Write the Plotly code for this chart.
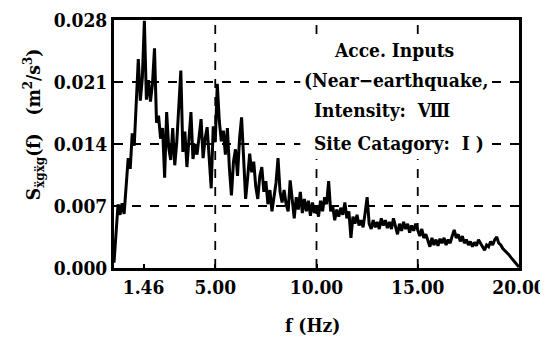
import numpy as np
import plotly.graph_objects as go

# ---- data ----
freq = np.round(np.arange(0, 20.0001, 0.1), 2)  # Hz grid
psd_e3 = [  # S(f) in units of 1e-3 m^2/s^3
    0.6, 4.0, 7.2, 6.0, 7.3, 6.1, 9.8, 12.4, 11.2, 15.2,
    13.8, 18.7, 23.6, 18.9, 21.5, 27.9, 19.0, 21.2, 18.8, 20.8,
    24.8, 16.4, 17.2, 14.6, 15.8, 10.2, 17.6, 13.6, 12.2, 15.8,
    11.6, 14.2, 18.6, 22.3, 13.1, 15.4, 11.4, 15.0, 17.6, 12.3,
    14.0, 12.8, 15.2, 16.8, 12.4, 14.6, 15.9, 11.8, 9.0, 16.0,
    14.2, 20.8, 16.6, 14.3, 15.5, 12.8, 15.8, 11.2, 8.2, 12.0,
    13.4, 10.4, 14.6, 17.0, 11.8, 7.8, 10.2, 12.9, 10.8, 12.0,
    9.2, 7.8, 10.4, 11.4, 8.6, 9.8, 7.2, 8.8, 6.4, 8.2,
    9.6, 12.4, 8.6, 7.4, 8.8, 7.2, 6.4, 9.9, 7.4, 5.6,
    8.0, 6.6, 8.6, 6.2, 7.8, 6.4, 7.6, 5.9, 7.4, 6.2,
    7.0, 5.8, 7.6, 6.4, 8.0, 7.2, 9.8, 6.4, 7.0, 5.4,
    6.6, 5.8, 6.8, 6.0, 7.4, 5.6, 6.4, 3.4, 5.8, 5.0,
    6.0, 4.8, 5.4, 4.6, 6.2, 8.0, 5.0, 4.4, 5.4, 4.6,
    5.2, 4.4, 5.6, 4.8, 5.4, 4.5, 5.2, 4.4, 5.6, 4.6,
    3.8, 5.0, 4.2, 5.2, 4.4, 5.0, 4.0, 4.8, 4.2, 5.0,
    4.4, 3.6, 4.4, 3.4, 3.8, 3.0, 2.4, 3.4, 2.6, 3.2,
    2.5, 3.3, 2.8, 3.4, 2.6, 3.2, 2.8, 3.6, 4.3, 3.4,
    3.8, 3.0, 3.6, 2.8, 3.2, 2.6, 3.0, 2.4, 2.9, 2.5,
    3.2, 2.8, 2.4, 2.0, 2.6, 2.4, 3.0, 2.6, 3.2, 3.5,
    2.8, 2.6, 2.2, 2.0, 1.8, 1.5, 1.2, 0.9, 0.6, 0.3,
    0.1,
]
psd = [v * 1e-3 for v in psd_e3]

x_tickvals = [1.46, 5, 10, 15, 20]
x_ticktext = ["1.46", "5.00", "10.00", "15.00", "20.00"]
y_tickvals = [0.0, 0.007, 0.014, 0.021, 0.028]
y_ticktext = ["0.000", "0.007", "0.014", "0.021", "0.028"]
x_grid = [5, 10, 15]
y_grid = [0.007, 0.014, 0.021]

FONT = "DejaVu Serif Condensed, DejaVu Serif, Liberation Serif, serif"
TXT = dict(family=FONT, size=19, color="black", weight="bold")

fig = go.Figure()
fig.add_trace(go.Scatter(x=freq, y=psd, mode="lines",
                         line=dict(color="black", width=3), showlegend=False))

shapes = []
for g in x_grid:
    shapes.append(dict(type="line", xref="x", yref="paper", x0=g, x1=g, y0=0, y1=1,
                       line=dict(color="black", width=1.8, dash="dash"), layer="below"))
for g in y_grid:
    shapes.append(dict(type="line", xref="paper", yref="y", x0=0, x1=1, y0=g, y1=g,
                       line=dict(color="black", width=1.8, dash="dash"), layer="below"))
# white box behind the legend text
shapes.append(dict(type="rect", xref="paper", yref="paper",
                   x0=0.46, x1=0.87, y0=0.44, y1=0.94,
                   fillcolor="white", line=dict(width=0), layer="below"))

annots = [
    dict(text="Acce. Inputs", x=0.692, y=0.879, xanchor="center"),
    dict(text="(Near\u2212earthquake,", x=0.467, y=0.758, xanchor="left", bgcolor="white"),
    dict(text="Intensity:\u00a0\u00a0\u2167", x=0.492, y=0.637, xanchor="left"),
    dict(text="Site Catagory:\u00a0\u00a0\u2160 )", x=0.492, y=0.504, xanchor="left",
         bgcolor="white"),
]
ann_list = []
for a in annots:
    d = dict(xref="paper", yref="paper", yanchor="middle", showarrow=False,
             font=TXT, borderpad=0)
    d.update(a)
    ann_list.append(d)

# axis titles
ann_list.append(dict(text="S<sub>\u1e8dg\u1e8dg</sub>(f)\u00a0\u00a0\u00a0(m<sup>2</sup>/s<sup>3</sup>)",
                     xref="paper", yref="paper", x=-0.2, y=0.58, textangle=-90,
                     xanchor="center", yanchor="middle", showarrow=False, font=TXT))
ann_list.append(dict(text="f (Hz)", xref="paper", yref="paper", x=0.49, y=-0.23,
                     xanchor="center", yanchor="middle", showarrow=False, font=TXT))

# page body has an 8px margin; figure is sized/offset to compensate
fig.update_layout(
    width=540, height=330,
    margin=dict(l=106, r=29, t=12, b=70, autoexpand=False),
    paper_bgcolor="white", plot_bgcolor="white",
    font=TXT,
    shapes=shapes, annotations=ann_list,
    xaxis=dict(range=[0, 20], tickvals=x_tickvals, ticktext=x_ticktext,
               ticks="inside", ticklen=4, tickwidth=2, tickcolor="black",
               showgrid=False, zeroline=False, showline=True, mirror=True,
               linecolor="black", linewidth=3, tickfont=TXT, automargin=False),
    yaxis=dict(range=[0, 0.028], tickvals=y_tickvals, ticktext=y_ticktext,
               ticks="", showgrid=False, zeroline=False, showline=True, mirror=True,
               linecolor="black", linewidth=3, tickfont=TXT, automargin=False),
)

fig.write_html("out.html")
